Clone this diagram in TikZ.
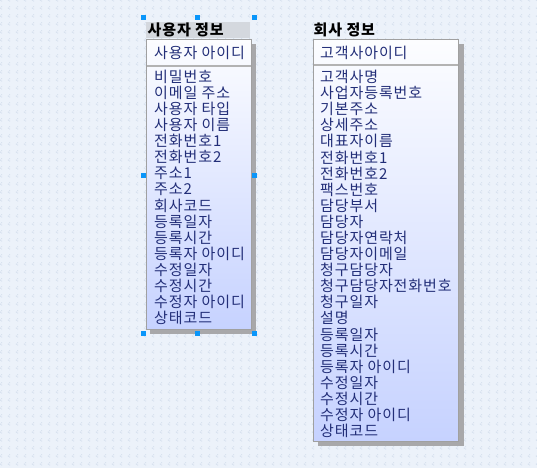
\documentclass[tikz,border=0pt]{standalone}
\usepackage{fontspec}
\newfontfamily\kr[LetterSpace=6]{Noto Sans CJK KR}
\usetikzlibrary{patterns.meta}
\definecolor{bgc}{RGB}{236,242,250}
\definecolor{dotc}{RGB}{206,218,234}
\definecolor{txt}{RGB}{34,46,120}
\definecolor{bord}{RGB}{160,160,160}
\definecolor{shad}{RGB}{168,168,170}
\definecolor{topc}{RGB}{252,253,255}
\definecolor{botc}{RGB}{198,210,255}
\definecolor{selbg}{RGB}{212,216,222}
\definecolor{handle}{RGB}{10,150,250}
\tikzdeclarepattern{name=bgdots, type=uncolored,
  bounding box={(0pt,0pt) and (8pt,8pt)}, tile size={(8pt,8pt)},
  code={
    \fill (1pt,5pt) rectangle (2pt,6pt);
    \fill (2.5pt,4pt) rectangle (3.5pt,5pt);
    \fill (2.5pt,6.5pt) rectangle (3.5pt,7.5pt);
  }}
\tikzset{
  item/.style={anchor=west, inner sep=0pt, text=txt, font=\kr\fontsize{15}{16}\selectfont},
  ttl/.style={anchor=west, inner sep=0pt, text=black, font=\kr\bfseries\fontsize{15}{16}\selectfont},
  hnd/.style={fill=handle, draw=none, minimum size=5pt, inner sep=0pt},
  tablebox/.style={draw=bord, line width=1pt, top color=topc, bottom color=botc},
  shadowbox/.style={fill=shad, draw=none},
  sep/.style={draw=bord!80, line width=2pt}
}
\begin{document}
\begin{tikzpicture}[x=1pt,y=-1pt]
\useasboundingbox (0,0) rectangle (537,468);
\fill[bgc] (0,0) rectangle (537,468);
\fill[pattern={bgdots}, pattern color=dotc] (0,0) rectangle (537,468);

% ---------- left table: 사용자 정보 ----------
\fill[selbg] (146,22) rectangle (250,38.5);
\node[ttl] (t1) at (147.5,30) {사용자 정보};
\fill[shadowbox] (150,44) rectangle (255.5,333.5);
\path[tablebox] (146,39.5) rectangle (251,329.5);
\draw[sep] (146.5,66) -- (250.5,66);
\node[item] (k1) at (154,53) {사용자 아이디};
\foreach \t [count=\i] in {비밀번호,이메일 주소,사용자 타입,사용자 이름,전화번호1,전화번호2,주소1,주소2,회사코드,등록일자,등록시간,등록자 아이디,수정일자,수정시간,수정자 아이디,상태코드}
  \node[item] (a\i) at (154,{77+16.07*(\i-1)}) {\t};

% selection handles
\node[hnd] (h1) at (143,18) {};
\node[hnd] (h2) at (197.5,18) {};
\node[hnd] (h3) at (254,18) {};
\node[hnd] (h4) at (143,175.5) {};
\node[hnd] (h5) at (254,175.5) {};
\node[hnd] (h6) at (143,333) {};
\node[hnd] (h7) at (197.5,333) {};
\node[hnd] (h8) at (254,333) {};

% ---------- right table: 회사 정보 ----------
\node[ttl] (t2) at (313.5,30) {회사 정보};
\fill[shadowbox] (318,44) rectangle (463.5,446);
\path[tablebox] (313.5,39.5) rectangle (458.5,441.5);
\draw[sep] (314,65.5) -- (458,65.5);
\node[item] (k2) at (320,52.5) {고객사아이디};
\foreach \t [count=\i] in {고객사명,사업자등록번호,기본주소,상세주소,대표자이름,전화번호1,전화번호2,팩스번호,담당부서,담당자,담당자연락처,담당자이메일,청구담당자,청구담당자전화번호,청구일자,설명,등록일자,등록시간,등록자 아이디,수정일자,수정시간,수정자 아이디,상태코드}
  \node[item] (b\i) at (320,{77+16.09*(\i-1)}) {\t};
\end{tikzpicture}
\end{document}
